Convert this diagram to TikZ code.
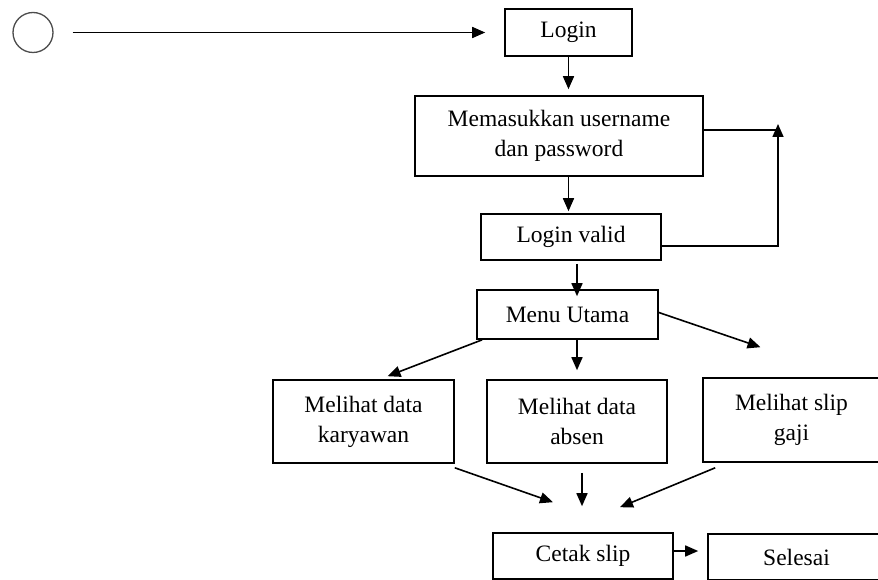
\documentclass[tikz,border=0pt]{standalone}
\usepackage{fontspec}
\setmainfont{Liberation Serif}
\usetikzlibrary{arrows.meta,positioning}

\begin{document}
\begin{tikzpicture}[
  x=1pt, y={(0pt,-1pt)}, line width=1.6pt,
  box/.style={draw,align=center,inner sep=0pt,
    font=\fontsize{23.5}{30}\selectfont},
  arr/.style={-{Triangle[length=13pt,width=11pt]}}
]
\useasboundingbox (0,0) rectangle (878,580);
\clip (0,0) rectangle (878,580);
\node[draw=black!70,circle,minimum size=40pt,line width=1.3pt] (start) at (33,32.5) {};
\node[box,minimum width=127pt,minimum height=47pt] (login) at (568.5,32.5) {Login};
\node[box,minimum width=288pt,minimum height=80pt] (masuk) at (559,136) {Memasukkan username\\dan password};
\node[box,minimum width=180pt,minimum height=46pt] (valid) at (571,237) {Login valid};
\node[box,minimum width=181pt,minimum height=49pt] (menu) at (567.5,314.5) {Menu Utama};
\node[box,minimum width=181pt,minimum height=83pt] (kary) at (363.5,421.5) {Melihat data\\karyawan};
\node[box,minimum width=180pt,minimum height=83pt] (absen) at (577,421.5) {Melihat data\\absen};
\node[box,minimum width=177pt,minimum height=84pt] (slip) at (791.5,420) {Melihat slip\\gaji};
\node[box,minimum width=180pt,minimum height=46pt] (cetak) at (583,556) {Cetak slip};
\node[box,minimum width=177pt,minimum height=46pt] (selesai) at (796.5,557) {Selesai};
\coordinate (loop) at (778,130);
% main flow
\draw[arr,shorten <=19pt,shorten >=19pt] (start) -- (login);
\draw[arr,shorten >=6pt] (login) -- (login |- masuk.north);
\draw[arr,shorten >=2pt] (masuk.south -| login) -- (valid.north -| login);
\draw[arr,shorten <=3pt,shorten >=-7pt] ([xshift=6pt]valid.south) -- ([xshift=6pt]valid.south |- menu.north);
% back to input
\draw (masuk.east |- loop) -- (loop);
\draw[arr] ([yshift=-9pt]valid.east) -| ([yshift=6pt]loop);
% menu choices
\draw[arr] ([xshift=6pt]menu.south west) -- ([xshift=24pt,yshift=3pt]kary.north);
\draw[arr,shorten >=9pt] (menu.south -| absen) -- (absen);
\draw[arr] ([yshift=2pt]menu.east) -- ([xshift=-31pt,yshift=30pt]slip.north);
\draw[arr] ([yshift=-4pt]kary.south east) -- ([xshift=-30pt,yshift=30pt]cetak.north);
\draw[arr,shorten <=9pt] ([xshift=5pt]absen.south) -- ([xshift=-1pt,yshift=26pt]cetak.north);
\draw[arr] ([xshift=13pt,yshift=-5pt]slip.south west) -- ([xshift=37pt,yshift=25pt]cetak.north);
\draw[arr,shorten >=9pt] ([yshift=5pt]cetak.east) -- ([yshift=5pt]cetak.east -| selesai.west);
\end{tikzpicture}
\end{document}
